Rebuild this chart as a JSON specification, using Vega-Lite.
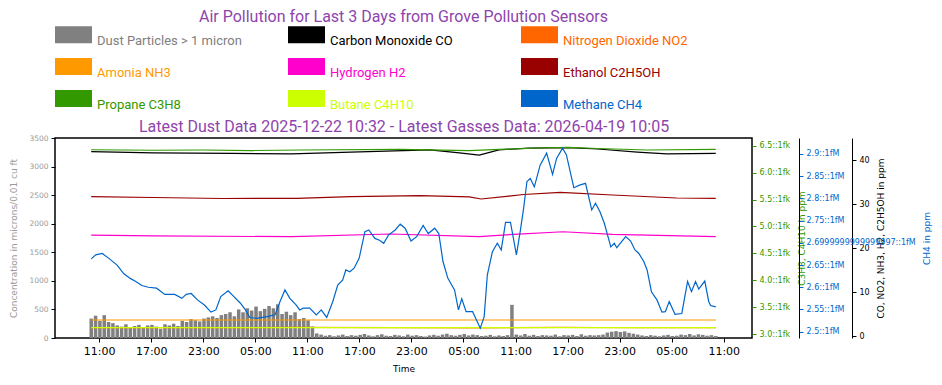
{
  "$schema": "https://vega.github.io/schema/vega-lite/v6.json",
  "width": 697,
  "height": 200,
  "autosize": {"type": "none"},
  "padding": {"left": 55, "top": 138, "right": 190, "bottom": 47},
  "config": {
    "font": "DejaVu Sans",
    "view": {"stroke": "#000000", "strokeWidth": 1.5},
    "axis": {"grid": false, "tickColor": "#000000", "domainColor": "#000000", "labelFont": "DejaVu Sans", "titleFont": "DejaVu Sans", "titleFontWeight": "normal", "tickSize": 4, "labelOverlap": false}
  },
  "title": {"text": "Air Pollution for Last 3 Days from Grove Pollution Sensors", "color": "#8e44ad", "font": "Roboto", "fontSize": 16, "fontWeight": "normal", "anchor": "middle", "frame": "group", "offset": -9},
  "datasets": {
    "dust": [
      {"t": "2026-04-16T10:05:00Z", "v": 340}, {"t": "2026-04-16T10:35:00Z", "v": 390}, {"t": "2026-04-16T11:05:00Z", "v": 300}, {"t": "2026-04-16T11:35:00Z", "v": 400},
      {"t": "2026-04-16T12:05:00Z", "v": 280}, {"t": "2026-04-16T12:35:00Z", "v": 260}, {"t": "2026-04-16T13:05:00Z", "v": 220}, {"t": "2026-04-16T13:35:00Z", "v": 200},
      {"t": "2026-04-16T14:05:00Z", "v": 240}, {"t": "2026-04-16T14:35:00Z", "v": 180}, {"t": "2026-04-16T15:05:00Z", "v": 210}, {"t": "2026-04-16T15:35:00Z", "v": 230},
      {"t": "2026-04-16T16:05:00Z", "v": 190}, {"t": "2026-04-16T16:35:00Z", "v": 220}, {"t": "2026-04-16T17:05:00Z", "v": 230}, {"t": "2026-04-16T17:35:00Z", "v": 200},
      {"t": "2026-04-16T18:05:00Z", "v": 160}, {"t": "2026-04-16T18:35:00Z", "v": 240}, {"t": "2026-04-16T19:05:00Z", "v": 220}, {"t": "2026-04-16T19:35:00Z", "v": 250},
      {"t": "2026-04-16T20:05:00Z", "v": 210}, {"t": "2026-04-16T20:35:00Z", "v": 300}, {"t": "2026-04-16T21:05:00Z", "v": 280}, {"t": "2026-04-16T21:35:00Z", "v": 330},
      {"t": "2026-04-16T22:05:00Z", "v": 310}, {"t": "2026-04-16T22:35:00Z", "v": 290}, {"t": "2026-04-16T23:05:00Z", "v": 340}, {"t": "2026-04-16T23:35:00Z", "v": 360},
      {"t": "2026-04-17T00:05:00Z", "v": 380}, {"t": "2026-04-17T00:35:00Z", "v": 350}, {"t": "2026-04-17T01:05:00Z", "v": 400}, {"t": "2026-04-17T01:35:00Z", "v": 420},
      {"t": "2026-04-17T02:05:00Z", "v": 450}, {"t": "2026-04-17T02:35:00Z", "v": 380}, {"t": "2026-04-17T03:05:00Z", "v": 500}, {"t": "2026-04-17T03:35:00Z", "v": 450},
      {"t": "2026-04-17T04:05:00Z", "v": 520}, {"t": "2026-04-17T04:35:00Z", "v": 480}, {"t": "2026-04-17T05:05:00Z", "v": 550}, {"t": "2026-04-17T05:35:00Z", "v": 470},
      {"t": "2026-04-17T06:05:00Z", "v": 510}, {"t": "2026-04-17T06:35:00Z", "v": 560}, {"t": "2026-04-17T07:05:00Z", "v": 520}, {"t": "2026-04-17T07:35:00Z", "v": 590},
      {"t": "2026-04-17T08:05:00Z", "v": 420}, {"t": "2026-04-17T08:35:00Z", "v": 460}, {"t": "2026-04-17T09:05:00Z", "v": 400}, {"t": "2026-04-17T09:35:00Z", "v": 450},
      {"t": "2026-04-17T10:05:00Z", "v": 330}, {"t": "2026-04-17T10:35:00Z", "v": 350}, {"t": "2026-04-17T11:05:00Z", "v": 310}, {"t": "2026-04-17T11:35:00Z", "v": 200},
      {"t": "2026-04-17T12:05:00Z", "v": 80}, {"t": "2026-04-17T12:35:00Z", "v": 60}, {"t": "2026-04-17T13:05:00Z", "v": 40}, {"t": "2026-04-17T13:35:00Z", "v": 50},
      {"t": "2026-04-17T14:05:00Z", "v": 30}, {"t": "2026-04-17T14:35:00Z", "v": 45}, {"t": "2026-04-17T15:05:00Z", "v": 60}, {"t": "2026-04-17T15:35:00Z", "v": 35},
      {"t": "2026-04-17T16:05:00Z", "v": 50}, {"t": "2026-04-17T16:35:00Z", "v": 40}, {"t": "2026-04-17T17:05:00Z", "v": 55}, {"t": "2026-04-17T17:35:00Z", "v": 70},
      {"t": "2026-04-17T18:05:00Z", "v": 45}, {"t": "2026-04-17T18:35:00Z", "v": 30}, {"t": "2026-04-17T19:05:00Z", "v": 50}, {"t": "2026-04-17T19:35:00Z", "v": 65},
      {"t": "2026-04-17T20:05:00Z", "v": 40}, {"t": "2026-04-17T20:35:00Z", "v": 35}, {"t": "2026-04-17T21:05:00Z", "v": 55}, {"t": "2026-04-17T21:35:00Z", "v": 45},
      {"t": "2026-04-17T22:05:00Z", "v": 30}, {"t": "2026-04-17T22:35:00Z", "v": 60}, {"t": "2026-04-17T23:05:00Z", "v": 40}, {"t": "2026-04-17T23:35:00Z", "v": 50},
      {"t": "2026-04-18T00:05:00Z", "v": 35}, {"t": "2026-04-18T00:35:00Z", "v": 25}, {"t": "2026-04-18T01:05:00Z", "v": 45}, {"t": "2026-04-18T01:35:00Z", "v": 55},
      {"t": "2026-04-18T02:05:00Z", "v": 40}, {"t": "2026-04-18T02:35:00Z", "v": 60}, {"t": "2026-04-18T03:05:00Z", "v": 75}, {"t": "2026-04-18T03:35:00Z", "v": 50},
      {"t": "2026-04-18T04:05:00Z", "v": 40}, {"t": "2026-04-18T04:35:00Z", "v": 55}, {"t": "2026-04-18T05:05:00Z", "v": 70}, {"t": "2026-04-18T05:35:00Z", "v": 45},
      {"t": "2026-04-18T06:05:00Z", "v": 60}, {"t": "2026-04-18T06:35:00Z", "v": 50}, {"t": "2026-04-18T07:05:00Z", "v": 35}, {"t": "2026-04-18T07:35:00Z", "v": 40},
      {"t": "2026-04-18T08:05:00Z", "v": 55}, {"t": "2026-04-18T08:35:00Z", "v": 30}, {"t": "2026-04-18T09:05:00Z", "v": 45}, {"t": "2026-04-18T09:35:00Z", "v": 35},
      {"t": "2026-04-18T10:05:00Z", "v": 50}, {"t": "2026-04-18T10:35:00Z", "v": 580}, {"t": "2026-04-18T11:05:00Z", "v": 60}, {"t": "2026-04-18T11:35:00Z", "v": 45},
      {"t": "2026-04-18T12:05:00Z", "v": 70}, {"t": "2026-04-18T12:35:00Z", "v": 40}, {"t": "2026-04-18T13:05:00Z", "v": 55}, {"t": "2026-04-18T13:35:00Z", "v": 35},
      {"t": "2026-04-18T14:05:00Z", "v": 50}, {"t": "2026-04-18T14:35:00Z", "v": 45}, {"t": "2026-04-18T15:05:00Z", "v": 40}, {"t": "2026-04-18T15:35:00Z", "v": 60},
      {"t": "2026-04-18T16:05:00Z", "v": 30}, {"t": "2026-04-18T16:35:00Z", "v": 50}, {"t": "2026-04-18T17:05:00Z", "v": 45}, {"t": "2026-04-18T17:35:00Z", "v": 55},
      {"t": "2026-04-18T18:05:00Z", "v": 35}, {"t": "2026-04-18T18:35:00Z", "v": 65}, {"t": "2026-04-18T19:05:00Z", "v": 40}, {"t": "2026-04-18T19:35:00Z", "v": 50},
      {"t": "2026-04-18T20:05:00Z", "v": 45}, {"t": "2026-04-18T20:35:00Z", "v": 50}, {"t": "2026-04-18T21:05:00Z", "v": 60}, {"t": "2026-04-18T21:35:00Z", "v": 95},
      {"t": "2026-04-18T22:05:00Z", "v": 110}, {"t": "2026-04-18T22:35:00Z", "v": 120}, {"t": "2026-04-18T23:05:00Z", "v": 105}, {"t": "2026-04-18T23:35:00Z", "v": 115},
      {"t": "2026-04-19T00:05:00Z", "v": 90}, {"t": "2026-04-19T00:35:00Z", "v": 75}, {"t": "2026-04-19T01:05:00Z", "v": 60}, {"t": "2026-04-19T01:35:00Z", "v": 45},
      {"t": "2026-04-19T02:05:00Z", "v": 35}, {"t": "2026-04-19T02:35:00Z", "v": 50}, {"t": "2026-04-19T03:05:00Z", "v": 40}, {"t": "2026-04-19T03:35:00Z", "v": 30},
      {"t": "2026-04-19T04:05:00Z", "v": 45}, {"t": "2026-04-19T04:35:00Z", "v": 55}, {"t": "2026-04-19T05:05:00Z", "v": 35}, {"t": "2026-04-19T05:35:00Z", "v": 40},
      {"t": "2026-04-19T06:05:00Z", "v": 60}, {"t": "2026-04-19T06:35:00Z", "v": 50}, {"t": "2026-04-19T07:05:00Z", "v": 70}, {"t": "2026-04-19T07:35:00Z", "v": 45},
      {"t": "2026-04-19T08:05:00Z", "v": 65}, {"t": "2026-04-19T08:35:00Z", "v": 55}, {"t": "2026-04-19T09:05:00Z", "v": 40}, {"t": "2026-04-19T09:35:00Z", "v": 50},
      {"t": "2026-04-19T10:05:00Z", "v": 35}
    ],
    "blk": [
      {"t": "2026-04-16T10:05:00Z", "s": "Carbon Monoxide CO", "v": 41.9}, {"t": "2026-04-16T17:14:00Z", "s": "Carbon Monoxide CO", "v": 41.6},
      {"t": "2026-04-17T02:21:00Z", "s": "Carbon Monoxide CO", "v": 41.5}, {"t": "2026-04-17T09:11:00Z", "s": "Carbon Monoxide CO", "v": 41.4},
      {"t": "2026-04-17T16:01:00Z", "s": "Carbon Monoxide CO", "v": 41.8}, {"t": "2026-04-18T01:07:00Z", "s": "Carbon Monoxide CO", "v": 42.3},
      {"t": "2026-04-18T04:32:00Z", "s": "Carbon Monoxide CO", "v": 41.6}, {"t": "2026-04-18T06:49:00Z", "s": "Carbon Monoxide CO", "v": 41.1},
      {"t": "2026-04-18T09:05:00Z", "s": "Carbon Monoxide CO", "v": 42.3}, {"t": "2026-04-18T12:30:00Z", "s": "Carbon Monoxide CO", "v": 42.7},
      {"t": "2026-04-18T17:04:00Z", "s": "Carbon Monoxide CO", "v": 42.8}, {"t": "2026-04-18T20:29:00Z", "s": "Carbon Monoxide CO", "v": 42.5},
      {"t": "2026-04-19T01:02:00Z", "s": "Carbon Monoxide CO", "v": 41.8}, {"t": "2026-04-19T04:26:00Z", "s": "Carbon Monoxide CO", "v": 41.4},
      {"t": "2026-04-19T10:05:00Z", "s": "Carbon Monoxide CO", "v": 41.5},
      {"t": "2026-04-16T10:05:00Z", "s": "Ethanol C2H5OH", "v": 31.66}, {"t": "2026-04-16T17:14:00Z", "s": "Ethanol C2H5OH", "v": 31.48},
      {"t": "2026-04-17T01:13:00Z", "s": "Ethanol C2H5OH", "v": 31.25}, {"t": "2026-04-17T09:45:00Z", "s": "Ethanol C2H5OH", "v": 31.3},
      {"t": "2026-04-17T16:01:00Z", "s": "Ethanol C2H5OH", "v": 31.7}, {"t": "2026-04-17T23:59:00Z", "s": "Ethanol C2H5OH", "v": 31.89},
      {"t": "2026-04-18T05:40:00Z", "s": "Ethanol C2H5OH", "v": 31.6}, {"t": "2026-04-18T07:02:00Z", "s": "Ethanol C2H5OH", "v": 31.14},
      {"t": "2026-04-18T10:14:00Z", "s": "Ethanol C2H5OH", "v": 31.8}, {"t": "2026-04-18T11:56:00Z", "s": "Ethanol C2H5OH", "v": 32.16},
      {"t": "2026-04-18T16:09:00Z", "s": "Ethanol C2H5OH", "v": 32.66}, {"t": "2026-04-18T22:11:00Z", "s": "Ethanol C2H5OH", "v": 32.05},
      {"t": "2026-04-19T05:35:00Z", "s": "Ethanol C2H5OH", "v": 31.36}, {"t": "2026-04-19T10:05:00Z", "s": "Ethanol C2H5OH", "v": 31.3},
      {"t": "2026-04-16T10:05:00Z", "s": "Hydrogen H2", "v": 22.95}, {"t": "2026-04-16T17:14:00Z", "s": "Hydrogen H2", "v": 22.77},
      {"t": "2026-04-17T09:11:00Z", "s": "Hydrogen H2", "v": 22.57}, {"t": "2026-04-17T20:34:00Z", "s": "Hydrogen H2", "v": 23.18},
      {"t": "2026-04-18T06:49:00Z", "s": "Hydrogen H2", "v": 22.61}, {"t": "2026-04-18T10:48:00Z", "s": "Hydrogen H2", "v": 23.11},
      {"t": "2026-04-18T16:29:00Z", "s": "Hydrogen H2", "v": 23.7}, {"t": "2026-04-18T22:11:00Z", "s": "Hydrogen H2", "v": 23.11},
      {"t": "2026-04-19T10:05:00Z", "s": "Hydrogen H2", "v": 22.57},
      {"t": "2026-04-16T10:05:00Z", "s": "Amonia NH3", "v": 3.64}, {"t": "2026-04-17T10:05:00Z", "s": "Amonia NH3", "v": 3.64},
      {"t": "2026-04-18T10:05:00Z", "s": "Amonia NH3", "v": 3.64}, {"t": "2026-04-19T10:05:00Z", "s": "Amonia NH3", "v": 3.64},
      {"t": "2026-04-16T10:05:00Z", "s": "Nitrogen Dioxide NO2", "v": 1.93}, {"t": "2026-04-16T22:56:00Z", "s": "Nitrogen Dioxide NO2", "v": 1.88},
      {"t": "2026-04-17T09:11:00Z", "s": "Nitrogen Dioxide NO2", "v": 1.95}, {"t": "2026-04-17T21:42:00Z", "s": "Nitrogen Dioxide NO2", "v": 1.9},
      {"t": "2026-04-18T06:49:00Z", "s": "Nitrogen Dioxide NO2", "v": 1.86}, {"t": "2026-04-18T16:09:00Z", "s": "Nitrogen Dioxide NO2", "v": 1.96},
      {"t": "2026-04-19T01:02:00Z", "s": "Nitrogen Dioxide NO2", "v": 1.88}, {"t": "2026-04-19T10:05:00Z", "s": "Nitrogen Dioxide NO2", "v": 1.92}
    ],
    "grn": [
      {"t": "2026-04-16T10:05:00Z", "s": "Propane C3H8", "v": 6.425}, {"t": "2026-04-16T17:14:00Z", "s": "Propane C3H8", "v": 6.415},
      {"t": "2026-04-16T22:56:00Z", "s": "Propane C3H8", "v": 6.42}, {"t": "2026-04-17T04:38:00Z", "s": "Propane C3H8", "v": 6.41},
      {"t": "2026-04-17T10:19:00Z", "s": "Propane C3H8", "v": 6.42}, {"t": "2026-04-17T21:42:00Z", "s": "Propane C3H8", "v": 6.43},
      {"t": "2026-04-18T05:40:00Z", "s": "Propane C3H8", "v": 6.41}, {"t": "2026-04-18T09:05:00Z", "s": "Propane C3H8", "v": 6.43},
      {"t": "2026-04-18T13:38:00Z", "s": "Propane C3H8", "v": 6.457}, {"t": "2026-04-18T17:04:00Z", "s": "Propane C3H8", "v": 6.467},
      {"t": "2026-04-18T20:29:00Z", "s": "Propane C3H8", "v": 6.448}, {"t": "2026-04-19T02:10:00Z", "s": "Propane C3H8", "v": 6.42},
      {"t": "2026-04-19T10:05:00Z", "s": "Propane C3H8", "v": 6.43},
      {"t": "2026-04-16T10:05:00Z", "s": "Butane C4H10", "v": 3.117}, {"t": "2026-04-17T10:05:00Z", "s": "Butane C4H10", "v": 3.117},
      {"t": "2026-04-18T10:05:00Z", "s": "Butane C4H10", "v": 3.117}, {"t": "2026-04-19T10:05:00Z", "s": "Butane C4H10", "v": 3.117}
    ],
    "meth": [
      {"t": "2026-04-16T10:05:00Z", "v": 2.664}, {"t": "2026-04-16T10:36:00Z", "v": 2.673}, {"t": "2026-04-16T11:21:00Z", "v": 2.676}, {"t": "2026-04-16T12:07:00Z", "v": 2.665},
      {"t": "2026-04-16T13:04:00Z", "v": 2.650}, {"t": "2026-04-16T13:49:00Z", "v": 2.631}, {"t": "2026-04-16T14:35:00Z", "v": 2.620}, {"t": "2026-04-16T15:13:00Z", "v": 2.613},
      {"t": "2026-04-16T15:55:00Z", "v": 2.604}, {"t": "2026-04-16T16:40:00Z", "v": 2.600}, {"t": "2026-04-16T17:37:00Z", "v": 2.598}, {"t": "2026-04-16T18:34:00Z", "v": 2.584},
      {"t": "2026-04-16T19:43:00Z", "v": 2.584}, {"t": "2026-04-16T20:32:00Z", "v": 2.575}, {"t": "2026-04-16T21:02:00Z", "v": 2.584}, {"t": "2026-04-16T21:36:00Z", "v": 2.586},
      {"t": "2026-04-16T22:22:00Z", "v": 2.571}, {"t": "2026-04-16T23:08:00Z", "v": 2.560}, {"t": "2026-04-16T23:53:00Z", "v": 2.544}, {"t": "2026-04-17T00:27:00Z", "v": 2.549},
      {"t": "2026-04-17T01:01:00Z", "v": 2.579}, {"t": "2026-04-17T01:52:00Z", "v": 2.592}, {"t": "2026-04-17T02:32:00Z", "v": 2.579}, {"t": "2026-04-17T03:17:00Z", "v": 2.564},
      {"t": "2026-04-17T03:52:00Z", "v": 2.549}, {"t": "2026-04-17T04:22:00Z", "v": 2.532}, {"t": "2026-04-17T05:11:00Z", "v": 2.530}, {"t": "2026-04-17T06:20:00Z", "v": 2.534},
      {"t": "2026-04-17T07:17:00Z", "v": 2.538}, {"t": "2026-04-17T07:51:00Z", "v": 2.568}, {"t": "2026-04-17T08:25:00Z", "v": 2.594}, {"t": "2026-04-17T08:59:00Z", "v": 2.575},
      {"t": "2026-04-17T09:43:00Z", "v": 2.560}, {"t": "2026-04-17T10:07:00Z", "v": 2.549}, {"t": "2026-04-17T10:31:00Z", "v": 2.553}, {"t": "2026-04-17T11:16:00Z", "v": 2.553},
      {"t": "2026-04-17T12:02:00Z", "v": 2.538}, {"t": "2026-04-17T12:36:00Z", "v": 2.549}, {"t": "2026-04-17T13:14:00Z", "v": 2.532}, {"t": "2026-04-17T13:56:00Z", "v": 2.568},
      {"t": "2026-04-17T14:30:00Z", "v": 2.605}, {"t": "2026-04-17T15:04:00Z", "v": 2.616}, {"t": "2026-04-17T15:26:00Z", "v": 2.639}, {"t": "2026-04-17T15:54:00Z", "v": 2.635},
      {"t": "2026-04-17T16:23:00Z", "v": 2.643}, {"t": "2026-04-17T16:58:00Z", "v": 2.665}, {"t": "2026-04-17T17:38:00Z", "v": 2.725}, {"t": "2026-04-17T18:05:00Z", "v": 2.729},
      {"t": "2026-04-17T18:47:00Z", "v": 2.710}, {"t": "2026-04-17T19:19:00Z", "v": 2.706}, {"t": "2026-04-17T19:48:00Z", "v": 2.699}, {"t": "2026-04-17T20:22:00Z", "v": 2.718},
      {"t": "2026-04-17T21:08:00Z", "v": 2.729}, {"t": "2026-04-17T21:42:00Z", "v": 2.742}, {"t": "2026-04-17T22:16:00Z", "v": 2.733}, {"t": "2026-04-17T22:57:00Z", "v": 2.704},
      {"t": "2026-04-17T23:36:00Z", "v": 2.714}, {"t": "2026-04-18T00:21:00Z", "v": 2.739}, {"t": "2026-04-18T00:56:00Z", "v": 2.721}, {"t": "2026-04-18T01:41:00Z", "v": 2.733},
      {"t": "2026-04-18T02:09:00Z", "v": 2.721}, {"t": "2026-04-18T02:38:00Z", "v": 2.658}, {"t": "2026-04-18T03:12:00Z", "v": 2.620}, {"t": "2026-04-18T03:58:00Z", "v": 2.594},
      {"t": "2026-04-18T04:25:00Z", "v": 2.549}, {"t": "2026-04-18T04:48:00Z", "v": 2.574}, {"t": "2026-04-18T05:18:00Z", "v": 2.545}, {"t": "2026-04-18T06:03:00Z", "v": 2.545},
      {"t": "2026-04-18T06:56:00Z", "v": 2.508}, {"t": "2026-04-18T07:23:00Z", "v": 2.534}, {"t": "2026-04-18T07:45:00Z", "v": 2.628}, {"t": "2026-04-18T08:20:00Z", "v": 2.680},
      {"t": "2026-04-18T08:54:00Z", "v": 2.699}, {"t": "2026-04-18T09:21:00Z", "v": 2.684}, {"t": "2026-04-18T09:51:00Z", "v": 2.746}, {"t": "2026-04-18T10:25:00Z", "v": 2.746},
      {"t": "2026-04-18T11:06:00Z", "v": 2.673}, {"t": "2026-04-18T11:34:00Z", "v": 2.729}, {"t": "2026-04-18T11:56:00Z", "v": 2.778}, {"t": "2026-04-18T12:19:00Z", "v": 2.838},
      {"t": "2026-04-18T12:42:00Z", "v": 2.845}, {"t": "2026-04-18T13:10:00Z", "v": 2.826}, {"t": "2026-04-18T13:50:00Z", "v": 2.875}, {"t": "2026-04-18T14:35:00Z", "v": 2.902},
      {"t": "2026-04-18T15:16:00Z", "v": 2.854}, {"t": "2026-04-18T15:44:00Z", "v": 2.890}, {"t": "2026-04-18T16:25:00Z", "v": 2.913}, {"t": "2026-04-18T16:52:00Z", "v": 2.898},
      {"t": "2026-04-18T17:43:00Z", "v": 2.824}, {"t": "2026-04-18T18:23:00Z", "v": 2.830}, {"t": "2026-04-18T19:04:00Z", "v": 2.834}, {"t": "2026-04-18T19:47:00Z", "v": 2.774},
      {"t": "2026-04-18T20:13:00Z", "v": 2.789}, {"t": "2026-04-18T20:44:00Z", "v": 2.770}, {"t": "2026-04-18T21:14:00Z", "v": 2.744}, {"t": "2026-04-18T21:59:00Z", "v": 2.691},
      {"t": "2026-04-18T22:23:00Z", "v": 2.699}, {"t": "2026-04-18T22:40:00Z", "v": 2.689}, {"t": "2026-04-18T23:42:00Z", "v": 2.714}, {"t": "2026-04-19T00:16:00Z", "v": 2.704},
      {"t": "2026-04-19T00:46:00Z", "v": 2.684}, {"t": "2026-04-19T01:13:00Z", "v": 2.676}, {"t": "2026-04-19T01:47:00Z", "v": 2.658}, {"t": "2026-04-19T02:10:00Z", "v": 2.639},
      {"t": "2026-04-19T02:40:00Z", "v": 2.590}, {"t": "2026-04-19T03:19:00Z", "v": 2.571}, {"t": "2026-04-19T03:53:00Z", "v": 2.544}, {"t": "2026-04-19T04:16:00Z", "v": 2.545},
      {"t": "2026-04-19T04:43:00Z", "v": 2.568}, {"t": "2026-04-19T05:23:00Z", "v": 2.539}, {"t": "2026-04-19T06:10:00Z", "v": 2.541}, {"t": "2026-04-19T06:50:00Z", "v": 2.613},
      {"t": "2026-04-19T07:17:00Z", "v": 2.590}, {"t": "2026-04-19T07:45:00Z", "v": 2.613}, {"t": "2026-04-19T08:07:00Z", "v": 2.596}, {"t": "2026-04-19T08:49:00Z", "v": 2.614},
      {"t": "2026-04-19T09:16:00Z", "v": 2.568}, {"t": "2026-04-19T09:29:00Z", "v": 2.559}, {"t": "2026-04-19T10:05:00Z", "v": 2.556}
    ]
  },
  "layer": [
    {
      "data": {"name": "dust"},
      "mark": {"type": "bar", "width": 3.5},
      "encoding": {
        "x": {"field": "t", "type": "temporal",
          "scale": {"type": "utc", "domain": [{"year": 2026, "month": 4, "date": 16, "hours": 6, "minutes": 29, "utc": true}, {"year": 2026, "month": 4, "date": 19, "hours": 13, "minutes": 41, "utc": true}]},
          "axis": {"orient": "bottom", "format": "%H:%M", "domain": false, "labelFontSize": 11, "labelColor": "#000000", "labelPadding": 3, "labelFlush": false,
            "title": "Time", "titleFontSize": 9, "titleColor": "#000000", "titlePadding": 8,
            "values": [
              {"year": 2026, "month": 4, "date": 16, "hours": 11, "utc": true}, {"year": 2026, "month": 4, "date": 16, "hours": 17, "utc": true}, {"year": 2026, "month": 4, "date": 16, "hours": 23, "utc": true},
              {"year": 2026, "month": 4, "date": 17, "hours": 5, "utc": true}, {"year": 2026, "month": 4, "date": 17, "hours": 11, "utc": true}, {"year": 2026, "month": 4, "date": 17, "hours": 17, "utc": true}, {"year": 2026, "month": 4, "date": 17, "hours": 23, "utc": true},
              {"year": 2026, "month": 4, "date": 18, "hours": 5, "utc": true}, {"year": 2026, "month": 4, "date": 18, "hours": 11, "utc": true}, {"year": 2026, "month": 4, "date": 18, "hours": 17, "utc": true}, {"year": 2026, "month": 4, "date": 18, "hours": 23, "utc": true},
              {"year": 2026, "month": 4, "date": 19, "hours": 5, "utc": true}, {"year": 2026, "month": 4, "date": 19, "hours": 11, "utc": true}]}},
        "y": {"field": "v", "type": "quantitative", "scale": {"domain": [0, 3500], "nice": false},
          "axis": {"orient": "left", "values": [0, 500, 1000, 1500, 2000, 2500, 3000, 3500], "format": "d", "domain": false, "labelColor": "#999999", "labelFontSize": 7.5, "labelPadding": 3,
            "title": "Concentration in microns/0.01 cu ft", "titleColor": "#999999", "titleFontSize": 9, "titlePadding": 10}},
        "color": {"datum": "Dust Particles > 1 micron", "type": "nominal",
          "scale": {"domain": ["Dust Particles > 1 micron", "Carbon Monoxide CO", "Nitrogen Dioxide NO2", "Amonia NH3", "Hydrogen H2", "Ethanol C2H5OH", "Propane C3H8", "Butane C4H10", "Methane CH4"],
                    "range": ["#808080", "#000000", "#ff6600", "#ff9900", "#ff00cc", "#990000", "#339900", "#ccff00", "#0066cc"]},
          "legend": {"orient": "top", "title": null, "columns": 3, "gridAlign": "all", "columnPadding": 46, "rowPadding": -10, "offset": 6,
            "symbolType": "M-1,-0.46H1V0.46H-1Z", "symbolSize": 1369, "symbolStrokeWidth": 0,
            "labelFont": "Roboto", "labelFontSize": 13, "labelBaseline": "top", "labelOffset": 5, "labelLimit": 300,
            "encode": {
              "symbols": {"update": {"fill": {"scale": "color", "field": "value"}, "stroke": {"value": "transparent"}, "opacity": {"value": 1}}},
              "labels": {"update": {"fill": {"scale": "color", "field": "value"}}}
            }}}
      }
    },
    {
      "data": {"name": "blk"},
      "mark": {"type": "line", "strokeWidth": 1.2},
      "encoding": {
        "x": {"field": "t", "type": "temporal", "axis": null,
          "scale": {"type": "utc", "domain": [{"year": 2026, "month": 4, "date": 16, "hours": 6, "minutes": 29, "utc": true}, {"year": 2026, "month": 4, "date": 19, "hours": 13, "minutes": 41, "utc": true}]}},
        "y": {"field": "v", "type": "quantitative", "scale": {"domain": [-0.45, 45], "nice": false, "zero": false},
          "axis": {"orient": "right", "offset": 100, "values": [0, 10, 20, 30, 40], "domain": true, "labelColor": "#000000", "labelFontSize": 8, "labelPadding": 3,
            "title": "CO, NO2, NH3, H2, C2H5OH in ppm", "titleColor": "#000000", "titleFontSize": 9, "titleAngle": 270, "titleBaseline": "top", "titlePadding": 7}},
        "color": {"field": "s", "type": "nominal",
          "scale": {"domain": ["Dust Particles > 1 micron", "Carbon Monoxide CO", "Nitrogen Dioxide NO2", "Amonia NH3", "Hydrogen H2", "Ethanol C2H5OH", "Propane C3H8", "Butane C4H10", "Methane CH4"],
                    "range": ["#808080", "#000000", "#ff6600", "#ff9900", "#ff00cc", "#990000", "#339900", "#ccff00", "#0066cc"]},
          "legend": {"title": null}}
      }
    },
    {
      "data": {"name": "grn"},
      "mark": {"type": "line", "strokeWidth": 1.2},
      "encoding": {
        "x": {"field": "t", "type": "temporal", "axis": null,
          "scale": {"type": "utc", "domain": [{"year": 2026, "month": 4, "date": 16, "hours": 6, "minutes": 29, "utc": true}, {"year": 2026, "month": 4, "date": 19, "hours": 13, "minutes": 41, "utc": true}]}},
        "y": {"field": "v", "type": "quantitative", "scale": {"domain": [2.926, 6.643], "nice": false, "zero": false},
          "axis": {"orient": "right", "offset": 0, "values": [3, 3.5, 4, 4.5, 5, 5.5, 6, 6.5], "labelExpr": "format(datum.value, '.1f') + '::1fk'", "domain": false,
            "tickColor": "#339900", "labelColor": "#339900", "labelFontSize": 8, "labelPadding": 3,
            "title": "C3H8, C4H10 in ppm", "titleColor": "#339900", "titleFontSize": 9, "titleAngle": 270, "titleBaseline": "top", "titlePadding": 8}},
        "color": {"field": "s", "type": "nominal",
          "scale": {"domain": ["Dust Particles > 1 micron", "Carbon Monoxide CO", "Nitrogen Dioxide NO2", "Amonia NH3", "Hydrogen H2", "Ethanol C2H5OH", "Propane C3H8", "Butane C4H10", "Methane CH4"],
                    "range": ["#808080", "#000000", "#ff6600", "#ff9900", "#ff00cc", "#990000", "#339900", "#ccff00", "#0066cc"]},
          "legend": {"title": null}}
      }
    },
    {
      "data": {"name": "meth"},
      "mark": {"type": "line", "strokeWidth": 1.2},
      "encoding": {
        "x": {"field": "t", "type": "temporal",
          "scale": {"type": "utc", "domain": [{"year": 2026, "month": 4, "date": 16, "hours": 6, "minutes": 29, "utc": true}, {"year": 2026, "month": 4, "date": 19, "hours": 13, "minutes": 41, "utc": true}]},
          "axis": {"orient": "top", "labels": false, "ticks": false, "domain": false, "title": "Latest Dust Data 2025-12-22 10:32 - Latest Gasses Data: 2026-04-19 10:05",
            "titleColor": "#8e44ad", "titleFont": "Roboto", "titleFontSize": 16, "titlePadding": 4}},
        "y": {"field": "v", "type": "quantitative", "scale": {"domain": [2.4858, 2.936], "nice": false, "zero": false},
          "axis": {"orient": "right", "offset": 47, "values": [2.5, 2.55, 2.6, 2.65, 2.7, 2.75, 2.8, 2.85, 2.9],
            "labelExpr": "datum.value == 2.7 ? '2.6999999999999997::1fM' : datum.value + '::1fM'", "domain": true,
            "tickColor": "#0066cc", "labelColor": "#0066cc", "labelFontSize": 8, "labelPadding": 3,
            "title": "CH4 in ppm", "titleColor": "#0066cc", "titleFontSize": 9, "titleAngle": 270, "titleBaseline": "top", "titlePadding": 7}},
        "color": {"datum": "Methane CH4", "type": "nominal",
          "scale": {"domain": ["Dust Particles > 1 micron", "Carbon Monoxide CO", "Nitrogen Dioxide NO2", "Amonia NH3", "Hydrogen H2", "Ethanol C2H5OH", "Propane C3H8", "Butane C4H10", "Methane CH4"],
                    "range": ["#808080", "#000000", "#ff6600", "#ff9900", "#ff00cc", "#990000", "#339900", "#ccff00", "#0066cc"]},
          "legend": {"title": null}}
      }
    }
  ],
  "resolve": {"scale": {"y": "independent"}, "axis": {"x": "independent"}}
}
